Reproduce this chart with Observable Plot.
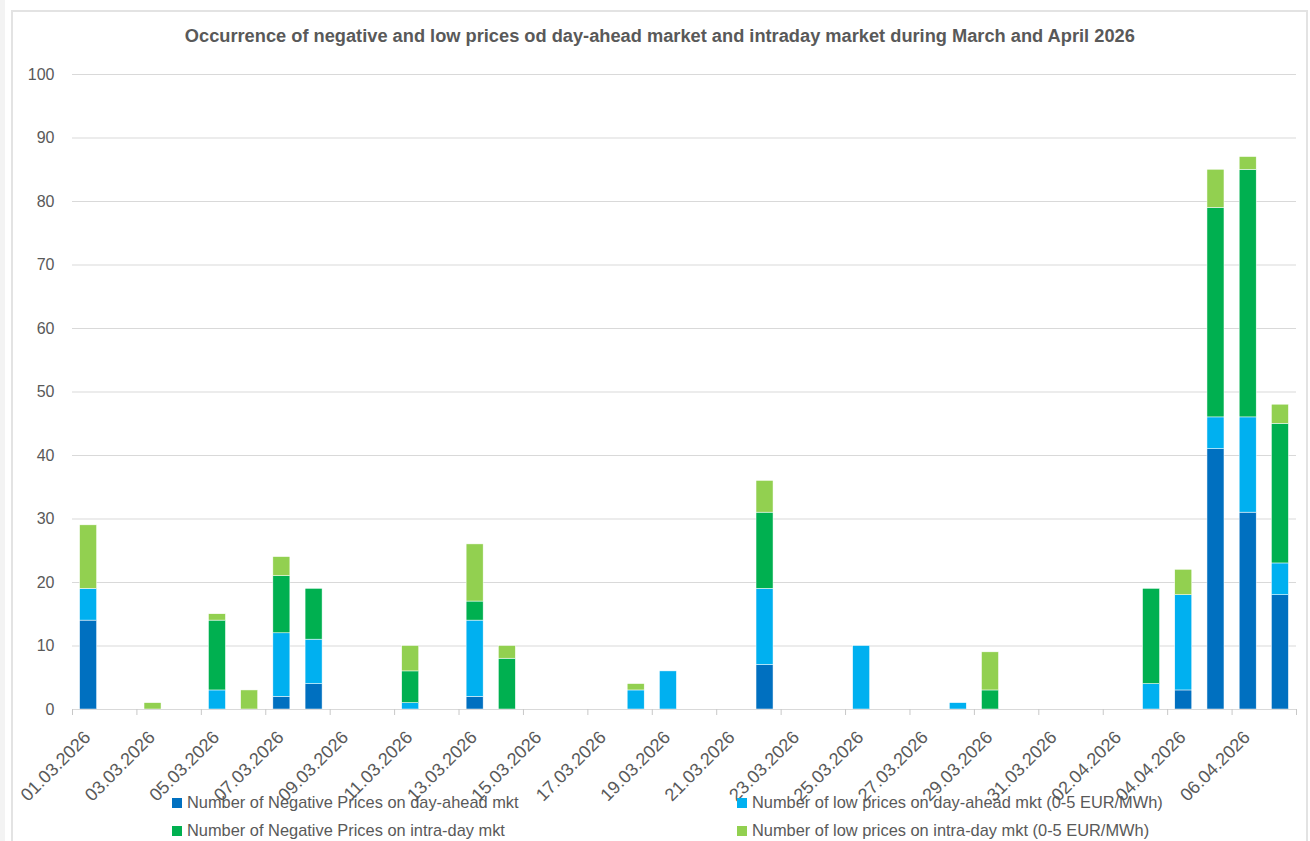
<!DOCTYPE html>
<html><head><meta charset="utf-8">
<script src="https://cdn.jsdelivr.net/npm/d3@7"></script>
<script src="https://cdn.jsdelivr.net/npm/@observablehq/plot@0.6"></script>
<style>
body{margin:0;background:#fff;font-family:"Liberation Sans",Arial,sans-serif;}
#strip{position:absolute;left:0;top:0;width:5px;height:841px;background:#f3f3f3;}
#frame{position:absolute;left:11px;top:10px;width:1297px;height:840px;border:2px solid #e3e3e3;box-sizing:border-box;}
#titlewrap{position:absolute;top:26px;left:0;width:1320px;text-align:center;}
#title{display:inline-block;font-weight:bold;font-size:18px;color:#595959;transform-origin:center;white-space:nowrap;}
#chart{position:absolute;left:0;top:60px;}
.leg{position:absolute;font-size:16.4px;color:#595959;display:flex;align-items:center;white-space:nowrap;}
.sw{width:10px;height:10px;margin-right:5px;}
</style></head><body>
<div id="strip"></div>
<div id="frame"></div>
<div id="titlewrap"><span id="title">Occurrence of negative and low prices od day-ahead market and intraday market during March and April 2026</span></div>
<div id="chart"></div>
<div id="legend"></div>
<script>
const dateLabels = [
  "01.03.2026","02.03.2026","03.03.2026","04.03.2026","05.03.2026","06.03.2026","07.03.2026","08.03.2026","09.03.2026","10.03.2026",
  "11.03.2026","12.03.2026","13.03.2026","14.03.2026","15.03.2026","16.03.2026","17.03.2026","18.03.2026","19.03.2026","20.03.2026",
  "21.03.2026","22.03.2026","23.03.2026","24.03.2026","25.03.2026","26.03.2026","27.03.2026","28.03.2026","29.03.2026","30.03.2026",
  "31.03.2026","01.04.2026","02.04.2026","03.04.2026","04.04.2026","05.04.2026","06.04.2026","07.04.2026"
];
const seriesNames = [
  "Number of Negative Prices on day-ahead mkt",
  "Number of low prices on day-ahead mkt (0-5 EUR/MWh)",
  "Number of Negative Prices on intra-day mkt",
  "Number of low prices on intra-day mkt (0-5 EUR/MWh)"
];
const seriesColors = ["#0070C0", "#00B0F0", "#00B050", "#92D050"];
const dayAheadNegative = [14,0,0,0,0,0,2,4,0,0, 0,0,2,0,0,0,0,0,0,0, 0,7,0,0,0,0,0,0,0,0, 0,0,0,0,3,41,31,18];
const dayAheadLow      = [5,0,0,0,3,0,10,7,0,0, 1,0,12,0,0,0,0,3,6,0, 0,12,0,0,10,0,0,1,0,0, 0,0,0,4,15,5,15,5];
const intradayNegative = [0,0,0,0,11,0,9,8,0,0, 5,0,3,8,0,0,0,0,0,0, 0,12,0,0,0,0,0,0,3,0, 0,0,0,15,0,33,39,22];
const intradayLow      = [10,0,1,0,1,3,3,0,0,0, 4,0,9,2,0,0,0,1,0,0, 0,5,0,0,0,0,0,0,6,0, 0,0,0,0,4,6,2,3];
const yTicks = [0,10,20,30,40,50,60,70,80,90,100];

const seriesValues = [dayAheadNegative, dayAheadLow, intradayNegative, intradayLow];
const rows = [];
seriesNames.forEach((s, k) => seriesValues[k].forEach((v, i) => { if (v > 0) rows.push({i, v, s}); }));
const n = dateLabels.length;
const boundaryTicks = d3.range(0, n + 1, 2);
const labelIdx = d3.range(0, n, 2);

const chart = Plot.plot({
  width: 1310, height: 778,
  marginTop: 14, marginBottom: 129, marginLeft: 72, marginRight: 14,
  style: {fontFamily: '"Liberation Sans",Arial,sans-serif', background: "transparent", overflow: "visible"},
  x: {type: "linear", domain: [0, n], axis: null},
  y: {domain: [0, 100], axis: null},
  color: {domain: seriesNames, range: seriesColors},
  marks: [
    Plot.gridY(yTicks, {stroke: "#d9d9d9", strokeOpacity: 1, strokeWidth: 1}),
    Plot.axisY(yTicks, {tickSize: 0, tickPadding: 18, fontSize: 16, fill: "#595959", label: null}),
    Plot.rectY(rows, {x1: "i", x2: d => d.i + 1, y: "v", fill: "s", insetLeft: 7.6, insetRight: 7.6, stroke: "white", strokeWidth: 0.5}),
    Plot.ruleY([0], {stroke: "#d9d9d9", strokeWidth: 1}),
    Plot.axisX(boundaryTicks, {tickSize: 6, tickFormat: () => "", stroke: "#c8c8c8", label: null}),
    Plot.text(labelIdx, {x: d => d + 0.5, y: () => 0, text: d => dateLabels[d], rotate: -45, textAnchor: "end", lineAnchor: "bottom", dx: 3, dy: 29, fontSize: 18, fill: "#595959"})
  ]
});
document.getElementById("chart").appendChild(chart);

const legendPos = [[172, 803], [737, 803], [172, 831], [737, 831]];
const leg = document.getElementById("legend");
seriesNames.forEach((s, k) => {
  const el = document.createElement("div");
  el.className = "leg";
  el.style.left = legendPos[k][0] + "px";
  el.style.top = (legendPos[k][1] - 10) + "px";
  el.innerHTML = `<span class="sw" style="background:${seriesColors[k]}"></span><span>${s}</span>`;
  leg.appendChild(el);
});

const t = document.getElementById("title");
const w = t.getBoundingClientRect().width;
t.style.transform = `scaleX(${950 / w})`;
</script>
</body></html>
